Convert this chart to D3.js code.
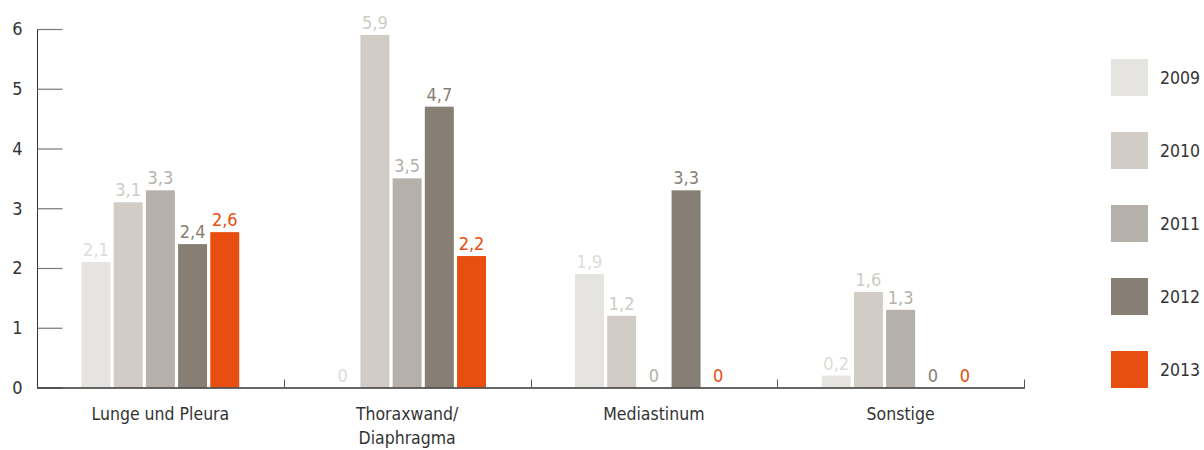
<!DOCTYPE html>
<html lang="de">
<head>
<meta charset="UTF-8" />
<title>Chart</title>
<script src="https://d3js.org/d3.v7.js"></script>
<style>
  body { margin: 0; background: #fff; }
  text { font-family: "DejaVu Sans Condensed", "Open Sans", sans-serif; }
</style>
</head>
<body>
<script>
  var w = 1204;
  var h = 450;

  // data
  var categories = ["Lunge und Pleura", "Thoraxwand/\nDiaphragma", "Mediastinum", "Sonstige"];
  var years = ["2009", "2010", "2011", "2012", "2013"];
  var v2009 = [2.1, 0, 1.9, 0.2];
  var v2010 = [3.1, 5.9, 1.2, 1.6];
  var v2011 = [3.3, 3.5, 0, 1.3];
  var v2012 = [2.4, 4.7, 3.3, 0];
  var v2013 = [2.6, 2.2, 0, 0];
  var yTicks = [0, 1, 2, 3, 4, 5, 6];

  var series = [v2009, v2010, v2011, v2012, v2013];
  var colors = ["#e6e4e0", "#d1cdc6", "#b5b1aa", "#877f73", "#e84e0f"];
  var labelColors = ["#dedcd7", "#cfcbc4", "#b5b1aa", "#877f73", "#e84e0f"];

  var rows = [];
  categories.forEach(function (c, i) {
    years.forEach(function (y, j) {
      rows.push({ cat: c, year: y, value: series[j][i], k: j });
    });
  });

  var svg = d3.select("body").append("svg")
    .attr("width", w)
    .attr("height", h);

  var x0 = d3.scaleBand()
    .domain(categories)
    .range([37, 1024]);

  var x1 = d3.scaleBand()
    .domain(years)
    .range([44.5, x0.bandwidth() - 44.5])
    .paddingInner(0.1);

  var y = d3.scaleLinear()
    .domain([0, 6])
    .range([387.5, 29]);

  // y axis
  var yAxis = svg.append("g")
    .attr("transform", "translate(37.5,0)")
    .call(d3.axisLeft(y).tickValues(yTicks).tickSize(-25).tickFormat(d3.format("d")));
  yAxis.select(".domain").attr("stroke", "#333").attr("d", "M0," + y(6) + "V" + y(0));
  yAxis.selectAll(".tick line").attr("stroke", "#777").attr("stroke-width", 1.2);
  yAxis.selectAll(".tick text")
    .attr("x", -20)
    .attr("text-anchor", "middle")
    .attr("fill", "#333")
    .style("font-size", "18px")
    .style("font-family", "'DejaVu Sans Condensed', sans-serif");

  // bars
  svg.append("g").selectAll("rect")
    .data(rows.filter(function (d) { return d.value > 0; }))
    .enter()
    .append("rect")
    .attr("x", function (d) { return x0(d.cat) + x1(d.year); })
    .attr("y", function (d) { return y(d.value); })
    .attr("width", x1.bandwidth())
    .attr("height", function (d) { return y(0) - y(d.value); })
    .attr("fill", function (d) { return colors[d.k]; });

  // value labels
  svg.append("g").selectAll("text")
    .data(rows)
    .enter()
    .append("text")
    .attr("x", function (d) { return x0(d.cat) + x1(d.year) + x1.bandwidth() / 2; })
    .attr("y", function (d) { return y(d.value) - 6; })
    .attr("text-anchor", "middle")
    .attr("fill", function (d) { return labelColors[d.k]; })
    .style("font-size", "18px")
    .text(function (d) { return String(d.value).replace(".", ","); });

  // baseline and category ticks
  svg.append("line")
    .attr("x1", 37).attr("x2", 1025)
    .attr("y1", y(0) + 0.5).attr("y2", y(0) + 0.5)
    .attr("stroke", "#333").attr("stroke-width", 1.5);

  svg.append("g").selectAll("line")
    .data(categories)
    .enter()
    .append("line")
    .attr("x1", function (d) { return Math.round(x0(d) + x0.bandwidth()) + 0.5; })
    .attr("x2", function (d) { return Math.round(x0(d) + x0.bandwidth()) + 0.5; })
    .attr("y1", y(0)).attr("y2", y(0) - 8)
    .attr("stroke", "#555");

  // category labels
  svg.append("g").selectAll("text")
    .data(categories)
    .enter()
    .append("text")
    .attr("x", function (d) { return x0(d) + x0.bandwidth() / 2; })
    .attr("y", 420)
    .attr("text-anchor", "middle")
    .attr("fill", "#333")
    .style("font-size", "17.5px")
    .each(function (d) {
      var t = d3.select(this);
      d.split("\n").forEach(function (line, i) {
        t.append("tspan")
          .attr("x", x0(d) + x0.bandwidth() / 2)
          .attr("dy", i === 0 ? 0 : 24)
          .text(line);
      });
    });

  // legend
  var legend = svg.append("g").selectAll("g")
    .data(years)
    .enter()
    .append("g")
    .attr("transform", function (d, i) { return "translate(1111," + (59 + i * 73) + ")"; });

  legend.append("rect")
    .attr("width", 37)
    .attr("height", 37)
    .attr("fill", function (d, i) { return colors[i]; });

  legend.append("text")
    .attr("x", 49)
    .attr("y", 25)
    .attr("fill", "#333")
    .style("font-size", "17.5px")
    .text(function (d) { return d; });
</script>
</body>
</html>
